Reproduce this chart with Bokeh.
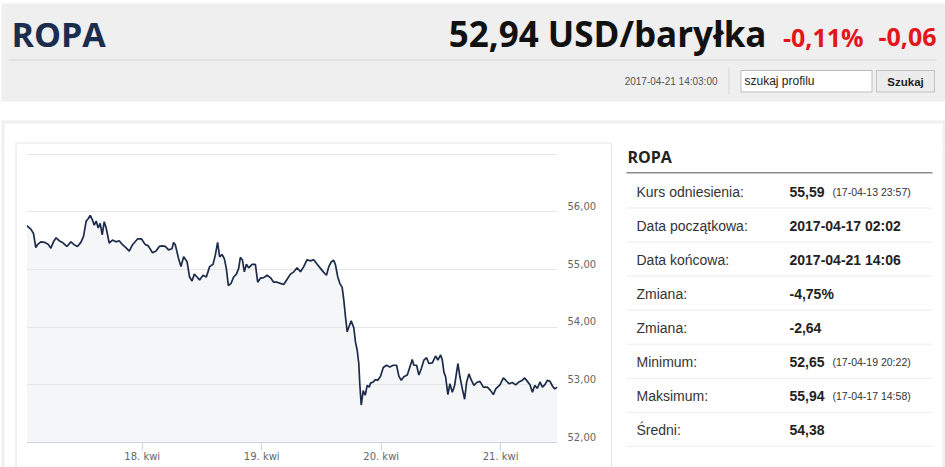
import datetime as dt
import pandas as pd
from bokeh.plotting import figure
from bokeh.layouts import column, row
from bokeh.models import (Range1d, LinearAxis, Grid, FixedTicker, DaysTicker,
                          DatetimeTickFormatter, CustomJSTickFormatter, ColumnDataSource)
from bokeh.core.properties import value
from bokeh.embed import file_html
from bokeh.resources import INLINE

# ---------------- data ----------------
TITLE = "ROPA"
PRICE_TEXT = "52,94 USD/baryłka"
CHANGE_PCT = "-0,11%"
CHANGE_ABS = "-0,06"
TIMESTAMP = "2017-04-21 14:03:00"
SEARCH_PLACEHOLDER = "szukaj profilu"
SEARCH_BUTTON = "Szukaj"

# hours since 2017-04-17 00:00 (chart time axis)
HOURS = [
    0.81, 1.62, 2.14, 2.62, 2.94, 3.63, 4.43, 5.09, 5.64, 6.16,
    6.70, 7.31, 7.97, 8.86, 9.66, 10.32, 10.99, 11.67, 12.19, 12.74,
    13.14, 13.54, 14.00, 14.35, 14.75, 15.15, 15.55, 15.96, 16.36, 16.76,
    17.36, 18.03, 18.71, 19.37, 20.04, 20.72, 21.39, 22.05, 23.05, 23.86,
    24.54, 25.21, 26.07, 26.76, 27.42, 28.08, 28.63, 29.29, 29.97, 30.30,
    30.64, 31.30, 31.78, 32.31, 32.99, 33.51, 34.00, 34.46, 35.00, 35.52,
    36.21, 36.87, 37.54, 38.22, 38.68, 39.14, 39.55, 40.03, 40.49, 40.89,
    41.30, 41.84, 42.36, 42.91, 43.37, 43.71, 44.11, 44.51, 44.92, 45.38,
    46.06, 46.73, 47.19, 47.73, 48.40, 49.08, 49.74, 50.41, 51.09, 51.75,
    52.42, 53.10, 53.77, 54.43, 55.11, 55.78, 56.44, 57.12, 57.79, 58.45,
    59.14, 59.80, 60.46, 61.01, 61.47, 61.95, 62.47, 62.82, 63.28, 63.68,
    64.16, 64.49, 64.83, 65.17, 65.49, 65.97, 66.50, 66.84, 67.18, 67.50,
    67.70, 67.99, 68.39, 68.79, 69.19, 69.59, 69.86, 70.40, 70.86, 71.32,
    71.87, 72.41, 73.07, 73.74, 74.42, 75.09, 75.55, 76.03, 76.55, 77.24,
    77.76, 78.24, 78.56, 79.11, 79.57, 80.05, 80.58, 81.12, 81.58, 82.27,
    82.93, 83.39, 83.93, 84.28, 84.60, 84.94, 85.40, 85.80, 86.29, 86.75,
    87.15, 87.41, 87.82, 88.30, 88.76, 89.16, 89.63, 90.11, 90.63, 91.17,
    91.84, 92.52, 93.33, 93.99, 94.53, 95.00, 95.86, 96.54, 97.01, 97.67,
    98.35, 99.02, 99.68, 100.36, 100.83, 101.37, 101.89, 102.38, 102.84, 103.38,
    103.90, 104.39, 104.85, 105.39, 105.91, 106.40, 106.86, 107.40,
]
PRICES = [
    55.76, 55.70, 55.63, 55.38, 55.43, 55.48, 55.47, 55.44, 55.37, 55.48,
    55.55, 55.50, 55.47, 55.40, 55.48, 55.43, 55.40, 55.47, 55.57, 55.84,
    55.88, 55.94, 55.86, 55.77, 55.84, 55.72, 55.80, 55.60, 55.83, 55.72,
    55.46, 55.51, 55.48, 55.50, 55.43, 55.38, 55.32, 55.43, 55.53, 55.53,
    55.44, 55.41, 55.29, 55.32, 55.40, 55.41, 55.40, 55.34, 55.36, 55.47,
    55.43, 55.19, 55.05, 55.22, 55.14, 54.87, 54.80, 54.92, 54.87, 54.82,
    54.90, 54.87, 55.05, 55.09, 55.25, 55.47, 55.22, 55.26, 55.19, 55.02,
    54.72, 54.76, 54.87, 54.92, 55.02, 55.21, 55.17, 54.96, 55.09, 55.03,
    55.09, 55.09, 54.78, 54.85, 54.86, 54.90, 54.86, 54.78, 54.78, 54.76,
    54.74, 54.83, 54.92, 54.96, 55.03, 54.96, 55.05, 55.17, 55.15, 55.17,
    55.09, 55.02, 54.95, 54.90, 55.05, 55.13, 55.16, 55.08, 54.87, 54.76,
    54.69, 54.47, 54.18, 53.92, 54.00, 54.11, 53.99, 53.74, 53.60, 53.37,
    53.02, 52.65, 52.90, 52.82, 52.99, 52.96, 53.03, 53.05, 53.09, 53.08,
    53.15, 53.30, 53.34, 53.31, 53.34, 53.34, 53.15, 53.08, 53.14, 53.17,
    53.31, 53.44, 53.34, 53.34, 53.17, 53.28, 53.43, 53.47, 53.37, 53.38,
    53.50, 53.43, 53.52, 53.43, 53.22, 53.14, 52.83, 53.02, 52.87, 52.99,
    53.22, 53.37, 53.14, 52.93, 52.75, 53.05, 53.19, 53.08, 52.99, 53.04,
    53.06, 52.96, 52.96, 52.90, 52.83, 52.93, 53.00, 53.12, 53.08, 53.02,
    53.04, 53.00, 53.05, 53.08, 53.12, 53.06, 53.00, 52.87, 52.99, 52.94,
    53.05, 52.96, 53.00, 53.08, 53.06, 52.98, 52.93, 52.96,
]

Y_TICKS = [52, 53, 54, 55, 56]
GRID_LEVELS = [53, 54, 55, 56, 57]
Y_MIN, Y_MAX = 52, 57.012
X_START = dt.datetime(2017, 4, 17, 0, 45)
X_END = dt.datetime(2017, 4, 21, 11, 25)

PANEL_TITLE = "ROPA"
STAT_LABELS = ["Kurs odniesienia:", "Data początkowa:", "Data końcowa:", "Zmiana:",
               "Zmiana:", "Minimum:", "Maksimum:", "Średni:"]
STAT_VALUES = ["55,59", "2017-04-17 02:02", "2017-04-21 14:06", "-4,75%",
               "-2,64", "52,65", "55,94", "54,38"]
STAT_NOTES = ["(17-04-13 23:57)", "", "", "", "", "(17-04-19 20:22)", "(17-04-17 14:58)", ""]

# ---------------- layout helpers ----------------
GREY_BG = "#efefef"
BORDER = "#e4e4e4"
PAGE_W, PAGE_H = 945, 467
HEADER_H = 145
ROW_H = PAGE_H - HEADER_H
LEFT_W, CHART_W = 17, 592
RIGHT_W = PAGE_W - LEFT_W - CHART_W


def panel_fig(x0, y0, w, h):
    f = figure(width=w, height=h, x_range=Range1d(x0, x0 + w),
               y_range=Range1d(y0 + h, y0), x_axis_type=None, y_axis_type=None,
               output_backend="svg", toolbar_location=None, min_border=0, title=None,
               frame_align=False)
    f.outline_line_color = None
    f.background_fill_color = "white"
    f.border_fill_color = "white"
    return f


def txt(f, x, y, s, size, color, font="Liberation Sans", style="normal", align="left"):
    f.text(x=[x], y=[y], text=[s], text_font=value(font), text_font_size=f"{size}px",
           text_font_style=style, text_color=color, text_align=align, text_baseline="middle")


def box(f, l, r, t, b, fill, line=None, lw=1):
    f.quad(left=[l], right=[r], top=[t], bottom=[b], fill_color=fill,
           line_color=line, line_width=lw)


def seg(f, x0, y0, x1, y1, color, lw=1):
    f.segment(x0=[x0], y0=[y0], x1=[x1], y1=[y1], line_color=color, line_width=lw)


# ---------------- header ----------------
hdr = panel_fig(0, 0, PAGE_W, HEADER_H)
box(hdr, 1, 950, 3, 101, GREY_BG)
seg(hdr, 8, 59.5, 936, 59.5, "#d3d3d3")
txt(hdr, 11, 33, TITLE, 34, "#1b2d4f", "Open Sans", "bold")
txt(hdr, 766, 33, PRICE_TEXT, 35, "#111111", "Open Sans", "bold", "right")
txt(hdr, 863, 36, CHANGE_PCT, 25, "#e3151b", "Open Sans", "bold", "right")
txt(hdr, 936, 36, CHANGE_ABS, 25, "#e3151b", "Open Sans", "bold", "right")
txt(hdr, 717, 81, TIMESTAMP, 10, "#555555", align="right")
seg(hdr, 728.5, 67, 728.5, 94, "#d6d6d6")
box(hdr, 740.5, 871.5, 70, 91.5, "white", "#bdbdbd")
txt(hdr, 744, 80.5, SEARCH_PLACEHOLDER, 12, "#222222")
box(hdr, 876, 934, 70, 91.5, "#ececec", "#c2c2c2")
txt(hdr, 905, 81.5, SEARCH_BUTTON, 11.5, "#222222", style="bold", align="center")
box(hdr, 1, 950, 120, 123, GREY_BG)
box(hdr, 1, 4, 120, 150, GREY_BG)
box(hdr, 942, 950, 120, 150, GREY_BG)
seg(hdr, 15.5, 142.5, 611, 142.5, BORDER)
seg(hdr, 15.5, 142.5, 15.5, 150, BORDER)
seg(hdr, 611, 142.5, 611, 150, BORDER)

# ---------------- left strip ----------------
lft = panel_fig(0, HEADER_H, LEFT_W, ROW_H)
box(lft, 1, 4, HEADER_H - 5, 480, GREY_BG)
seg(lft, 15.5, HEADER_H - 5, 15.5, 480, BORDER)

# ---------------- chart ----------------
times = pd.Timestamp("2017-04-17") + pd.to_timedelta(HOURS, unit="h")
src = ColumnDataSource(dict(t=times, price=PRICES))

p = figure(width=CHART_W, height=ROW_H, x_axis_type="datetime", y_axis_type=None,
           x_range=Range1d(X_START, X_END), y_range=Range1d(Y_MIN, Y_MAX),
           output_backend="svg", toolbar_location=None, title=None, frame_align=False,
           min_border_left=9, min_border_right=52, min_border_top=8, min_border_bottom=25)
p.outline_line_color = None
p.background_fill_color = "white"
p.border_fill_color = "white"
p.xgrid.visible = False

p.varea(x="t", y1=Y_MIN, y2="price", source=src, fill_color="#f5f6f8", level="image")
p.add_layout(Grid(dimension=1, ticker=FixedTicker(ticks=GRID_LEVELS),
                  grid_line_color="#e6e6e6", grid_line_width=1))
p.line("t", "price", source=src, line_color="#1c2b4a", line_width=1.7)

xa = p.xaxis[0]
xa.ticker = DaysTicker(days=list(range(1, 32)))
xa.formatter = DatetimeTickFormatter(days="%d. kwi", hours="%d. kwi", months="%d. kwi")
xa.axis_line_color = "#ccd6eb"
xa.major_tick_line_color = "#ccd6eb"
xa.major_tick_out = 8
xa.major_tick_in = 0
xa.minor_tick_line_color = None
xa.major_label_standoff = 0
xa.major_label_text_font = "DejaVu Sans"
xa.major_label_text_font_size = "10px"
xa.major_label_text_color = "#666666"

lab_shift = 0.1
p.extra_y_ranges = {"lab": Range1d(Y_MIN - lab_shift, Y_MAX - lab_shift)}
ya = LinearAxis(y_range_name="lab", ticker=FixedTicker(ticks=Y_TICKS),
                formatter=CustomJSTickFormatter(code="return tick.toFixed(2).replace('.', ',');"))
ya.axis_line_color = None
ya.major_tick_line_color = None
ya.minor_tick_line_color = None
ya.major_tick_out = 0
ya.major_tick_in = 0
ya.major_label_standoff = 10
ya.major_label_text_font = "DejaVu Sans"
ya.major_label_text_font_size = "10px"
ya.major_label_text_color = "#666666"
p.add_layout(ya, "right")

# ---------------- right panel (stats table) ----------------
rgt = panel_fig(LEFT_W + CHART_W, HEADER_H, RIGHT_W, ROW_H)
seg(rgt, 611, HEADER_H - 5, 611, 480, BORDER)
box(rgt, 942, 950, HEADER_H - 5, 480, GREY_BG)
txt(rgt, 627, 156, PANEL_TITLE, 16, "#222222", "Open Sans", "bold")
seg(rgt, 626, 172.3, 932, 172.3, "#8c8c8c", 1.5)
for i, (lab, val, note) in enumerate(zip(STAT_LABELS, STAT_VALUES, STAT_NOTES)):
    yc = 191 + 34.05 * i
    txt(rgt, 636, yc, lab, 14, "#333333")
    txt(rgt, 789, yc, val, 14, "#222222", style="bold")
    if note:
        txt(rgt, 832, yc + 0.5, note, 10.5, "#333333")
    seg(rgt, 626, yc + 16.5, 932, yc + 16.5, "#ececec")

layout = column(hdr, row(lft, p, rgt))
open("out.html", "w").write(file_html(layout, INLINE))
